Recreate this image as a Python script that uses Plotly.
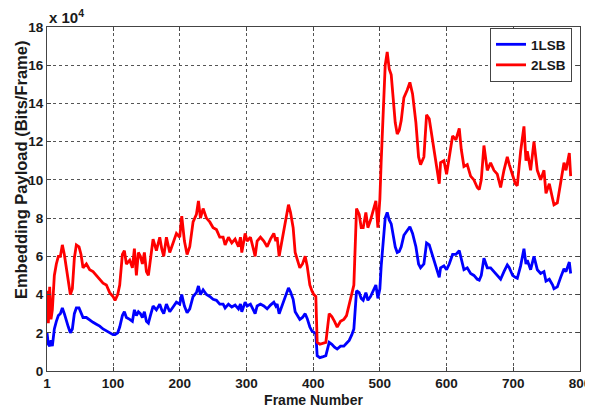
import plotly.graph_objects as go

frames = [1, 3, 5, 7, 9, 12, 15, 18, 21, 24, 27, 30, 33, 36, 39, 42, 45, 49, 52, 55,
          60, 65, 70, 75, 80, 85, 90, 95, 100, 103, 107, 110, 114, 117, 120, 125, 129, 132, 135, 138,
          141, 144, 147, 150, 153, 156, 160, 165, 170, 173, 176, 180, 185, 190, 195, 200, 203, 207, 211, 215,
          220, 225, 228, 231, 235, 240, 245, 250, 255, 260, 265, 268, 273, 278, 283, 288, 291, 293, 298, 301,
          306, 311, 313, 316, 321, 326, 331, 336, 341, 344, 346, 349, 354, 359, 363, 366, 370, 373, 376, 380,
          384, 388, 391, 395, 398, 401, 404, 406, 410, 415, 419, 424, 428, 432, 436, 441, 446, 450, 454, 458,
          461, 465, 469, 472, 475, 479, 482, 486, 491, 494, 497, 500, 502, 505, 508, 511, 514, 517, 520, 523,
          526, 529, 532, 536, 541, 545, 549, 554, 558, 561, 566, 570, 574, 579, 584, 589, 591, 596, 600, 604,
          609, 614, 619, 622, 626, 631, 636, 641, 646, 649, 652, 656, 661, 666, 671, 676, 681, 686, 691, 694,
          699, 703, 706, 711, 716, 719, 721, 726, 731, 736, 741, 746, 749, 754, 759, 761, 766, 771, 776, 779,
          784, 786]

lsb1 = [2.0, 1.4, 1.3, 1.6, 1.3, 2.2, 2.6, 2.9, 3.0, 3.3, 3.0, 2.6, 2.3, 2.0, 2.2, 3.0, 3.3, 3.3, 3.0, 2.8,
        2.8, 2.65, 2.55, 2.45, 2.35, 2.2, 2.1, 2.0, 1.9, 1.9, 2.0, 2.3, 2.9, 3.1, 2.8, 2.7, 2.6, 3.2, 2.9, 3.1,
        3.0, 2.8, 3.1, 2.6, 2.5, 2.9, 3.4, 3.2, 3.5, 3.2, 3.0, 3.5, 3.1, 3.35, 3.6, 3.5, 4.0, 3.4, 3.05, 3.25,
        3.9, 4.1, 4.45, 4.0, 4.25, 4.0, 3.9, 3.75, 3.7, 3.5, 3.5, 3.3, 3.5, 3.35, 3.45, 3.25, 3.5, 3.1, 3.6, 3.4,
        3.5, 3.15, 3.0, 3.4, 3.5, 3.4, 3.25, 3.45, 3.6, 3.4, 3.5, 3.0, 3.5, 4.0, 4.35, 4.15, 3.75, 3.1, 2.9, 2.7,
        2.8, 3.0, 2.75, 2.3, 2.1, 2.0, 1.95, 0.8, 0.7, 0.75, 0.8, 1.5, 1.4, 1.25, 1.15, 1.3, 1.3, 1.45, 1.6, 1.9,
        2.2, 4.2, 4.1, 3.8, 3.7, 4.1, 3.7, 3.9, 4.3, 4.5, 3.8, 4.3, 5.5, 7.0, 8.0, 8.3, 7.9, 7.7, 7.0, 6.5,
        6.2, 6.25, 6.5, 7.1, 7.35, 7.55, 7.2, 6.5, 5.6, 5.4, 5.6, 6.7, 6.6, 6.0, 5.5, 4.9, 5.4, 5.5, 5.3, 5.6,
        6.1, 6.1, 6.3, 5.8, 5.3, 5.4, 5.1, 5.0, 4.8, 4.75, 5.0, 5.9, 5.4, 5.4, 5.2, 5.0, 4.8, 5.2, 5.55, 5.4,
        5.0, 4.9, 4.85, 5.5, 6.4, 5.6, 5.8, 5.3, 6.0, 5.3, 5.1, 5.2, 4.7, 4.8, 4.5, 4.3, 4.4, 4.9, 5.35, 5.2,
        5.7, 5.1]

lsb2 = [4.2, 2.5, 4.4, 2.7, 3.2, 5.0, 5.6, 6.0, 6.0, 6.6, 6.1, 5.4, 4.7, 4.0, 4.3, 5.9, 6.6, 6.5, 6.1, 5.4,
        5.6, 5.3, 5.2, 5.0, 4.8, 4.6, 4.5, 4.1, 3.9, 3.7, 4.0, 4.5, 6.1, 6.3, 5.6, 5.8, 5.4, 6.4, 5.0, 6.2,
        6.0, 5.6, 6.2, 5.2, 5.0, 5.8, 6.9, 6.3, 7.0, 6.4, 6.0, 7.0, 6.2, 6.7, 7.2, 7.0, 8.1, 6.8, 6.1, 6.5,
        7.8, 8.2, 8.9, 8.0, 8.5, 8.0, 7.8, 7.5, 7.4, 7.0, 7.0, 6.6, 7.0, 6.7, 6.9, 6.5, 7.0, 6.2, 7.2, 6.8,
        7.0, 6.3, 6.0, 6.8, 7.0, 6.8, 6.5, 6.9, 7.2, 6.8, 7.0, 6.0, 7.0, 8.0, 8.7, 8.3, 7.5, 6.2, 5.8, 5.4,
        5.6, 6.0, 5.5, 4.5, 4.2, 4.0, 3.9, 1.5, 1.4, 1.45, 1.5, 3.0, 2.85, 2.6, 2.3, 2.6, 2.7, 2.9, 3.5, 4.0,
        4.5, 8.5, 8.2, 7.5, 7.5, 8.3, 7.5, 7.9, 8.5, 8.9, 7.5, 9.0, 11.0, 14.0, 16.0, 16.7, 15.8, 15.5, 14.0, 13.0,
        12.4, 12.6, 13.1, 14.3, 14.7, 15.1, 14.5, 13.0, 11.2, 10.8, 11.2, 13.4, 13.2, 12.1, 11.0, 9.8, 10.9, 11.0, 10.3, 11.2,
        12.3, 12.1, 12.7, 11.6, 10.7, 10.8, 10.2, 10.0, 9.6, 9.5, 10.0, 11.8, 10.5, 10.9, 10.5, 10.3, 9.6, 10.5, 11.2, 10.8,
        10.2, 9.8, 9.7, 11.5, 12.8, 11.0, 11.5, 10.5, 12.0, 10.5, 10.0, 10.5, 9.3, 9.8, 9.0, 8.7, 8.8, 9.8, 10.9, 10.5,
        11.4, 10.2]

x_ticks = [1, 100, 200, 300, 400, 500, 600, 700, 800]
y_ticks = [0, 2, 4, 6, 8, 10, 12, 14, 16, 18]

FONT = "Liberation Sans, Arial, sans-serif"
TXT = "#1a1a1a"

fig = go.Figure()
fig.add_trace(go.Scatter(x=frames, y=lsb1, mode="lines", name="1LSB",
                         line=dict(color="#0000FF", width=2.8)))
fig.add_trace(go.Scatter(x=frames, y=lsb2, mode="lines", name="2LSB",
                         line=dict(color="#FF0000", width=2.8)))

axis_common = dict(showline=True, linecolor="#444444", linewidth=1, mirror="ticks",
                   ticks="inside", ticklen=4, tickcolor="#444444",
                   showgrid=True, gridcolor="#555555", griddash="dot", gridwidth=1,
                   zeroline=False, automargin=False,
                   tickfont=dict(family=FONT, size=13.5, color=TXT, weight="bold"))

fig.update_xaxes(range=[1, 800], tickvals=x_ticks, ticktext=[str(v) for v in x_ticks],
                 title=dict(text="Frame Number", standoff=6,
                            font=dict(family=FONT, size=14, color=TXT, weight="bold")),
                 **axis_common)
fig.update_yaxes(range=[0, 18], tickvals=y_ticks, ticktext=[str(v) for v in y_ticks],
                 **axis_common)

# y-axis title (placed as in the reference, slightly above the axis centre)
fig.add_annotation(text="Embedding Payload (Bits/Frame)", xref="paper", yref="paper",
                   x=-0.05, y=0.585, xanchor="center", yanchor="middle", textangle=-90,
                   showarrow=False,
                   font=dict(family=FONT, size=16.5, color=TXT, weight="bold"))

fig.add_annotation(text="x 10<sup>4</sup>", xref="paper", yref="paper", x=0.0, y=1.0,
                   xanchor="left", yanchor="bottom", showarrow=False, yshift=-1,
                   font=dict(family=FONT, size=15, color=TXT, weight="bold"))

# the page adds an 8px offset, so the figure is drawn 8px smaller on each axis
fig.update_layout(
    width=585, height=400,
    margin=dict(l=39, r=13, t=19, b=37),
    paper_bgcolor="white", plot_bgcolor="white",
    showlegend=True,
    legend=dict(x=0.985, y=0.997, xanchor="right", yanchor="top",
                bgcolor="white", bordercolor="#444444", borderwidth=1,
                font=dict(family=FONT, size=13.5, color=TXT, weight="bold"),
                tracegroupgap=0, itemwidth=30),
)

fig.write_html("out.html")
